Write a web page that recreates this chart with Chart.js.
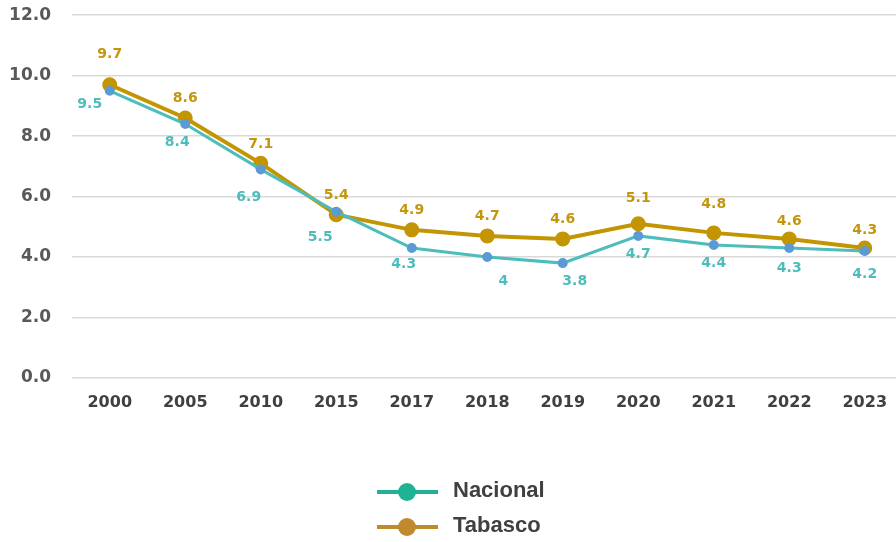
<!DOCTYPE html>
<html>
<head>
<meta charset="utf-8">
<script src="https://cdn.jsdelivr.net/npm/chart.js@4/dist/chart.umd.min.js"></script>
<style>
  html, body { margin: 0; padding: 0; background: #fff; overflow: hidden; }
  #wrap { position: relative; width: 912px; height: 558px; margin-top: -16px; }
</style>
</head>
<body>
<div id="wrap"><canvas id="chart"></canvas></div>
<script>
// data
const years    = ['2000', '2005', '2010', '2015', '2017', '2018', '2019', '2020', '2021', '2022', '2023'];
const nacional = [9.5, 8.4, 6.9, 5.5, 4.3, 4.0, 3.8, 4.7, 4.4, 4.3, 4.2];
const tabasco  = [9.7, 8.6, 7.1, 5.4, 4.9, 4.7, 4.6, 5.1, 4.8, 4.6, 4.3];
const nacionalText = ['9.5', '8.4', '6.9', '5.5', '4.3', '4', '3.8', '4.7', '4.4', '4.3', '4.2'];
const tabascoText  = ['9.7', '8.6', '7.1', '5.4', '4.9', '4.7', '4.6', '5.1', '4.8', '4.6', '4.3'];

// label placement (px, relative to point)
const nacShiftX = [-20, -8, -12, -16, -8, 16, 12, 0, 0, 0, 0];
const nacShiftY = [14, 18, 28, 26, 16, 24, 18, 18, 18, 20, 23];
const tabShiftY = [-30, -20, -19, -19, -19, -20, -20, -25, -29, -18, -18];

const FONT = '"DejaVu Sans", Verdana, sans-serif';
const NAC_LINE = '#4dbdbb';
const NAC_PT = '#5b9bd5';
const TAB = '#c49503';

const valueLabels = {
  id: 'valueLabels',
  afterDatasetsDraw(chart) {
    const ctx = chart.ctx;
    ctx.save();
    ctx.font = 'bold 14px ' + FONT;
    ctx.textAlign = 'center';
    ctx.textBaseline = 'middle';
    chart.getDatasetMeta(0).data.forEach((p, i) => {
      ctx.fillStyle = '#4dbdbb';
      ctx.fillText(nacionalText[i], p.x + nacShiftX[i], p.y + nacShiftY[i]);
    });
    chart.getDatasetMeta(1).data.forEach((p, i) => {
      ctx.fillStyle = '#c4960c';
      ctx.fillText(tabascoText[i], p.x, p.y + tabShiftY[i]);
    });
    ctx.restore();
  }
};

// legend drawn as stacked rows under the plot (canvas is shifted up 16px)
const bottomLegend = {
  id: 'bottomLegend',
  afterDraw(chart) {
    const ctx = chart.ctx;
    const items = [
      { text: chart.data.datasets[0].label, color: '#1fb294', y: 508 },
      { text: chart.data.datasets[1].label, color: '#bf8a2c', y: 543 }
    ];
    ctx.save();
    items.forEach(it => {
      ctx.strokeStyle = it.color;
      ctx.lineWidth = 4;
      ctx.beginPath();
      ctx.moveTo(377, it.y);
      ctx.lineTo(438, it.y);
      ctx.stroke();
      ctx.fillStyle = it.color;
      ctx.beginPath();
      ctx.arc(407, it.y, 9, 0, Math.PI * 2);
      ctx.fill();
      ctx.fillStyle = '#404040';
      ctx.font = 'bold 22px "Liberation Sans", Arial, sans-serif';
      ctx.textAlign = 'left';
      ctx.textBaseline = 'middle';
      ctx.fillText(it.text, 453, it.y - 1);
    });
    ctx.restore();
  }
};

new Chart(document.getElementById('chart').getContext('2d'), {
  type: 'line',
  data: {
    labels: years,
    datasets: [{
      label: 'Nacional',
      data: nacional,
      borderColor: NAC_LINE,
      backgroundColor: NAC_PT,
      pointBackgroundColor: NAC_PT,
      pointBorderColor: NAC_PT,
      pointRadius: 3.5,
      borderWidth: 3,
      tension: 0
    }, {
      label: 'Tabasco',
      data: tabasco,
      borderColor: TAB,
      backgroundColor: TAB,
      pointBackgroundColor: TAB,
      pointBorderColor: TAB,
      pointRadius: 5.5,
      borderWidth: 4,
      tension: 0
    }]
  },
  options: {
    responsive: true,
    maintainAspectRatio: false,
    animation: false,
    layout: { padding: { top: 0, right: 0, left: 0, bottom: 122 } },
    plugins: { legend: { display: false }, tooltip: { enabled: false } },
    scales: {
      x: {
        offset: true,
        grid: { display: false },
        border: { display: false },
        ticks: { color: '#404040', font: { family: FONT, size: 16, weight: 'bold' }, padding: 7, maxRotation: 0 },
        afterFit: s => { s.height = 42; }
      },
      y: {
        min: 0,
        max: 12,
        ticks: {
          stepSize: 2,
          color: '#595959',
          font: { family: FONT, size: 17, weight: 'bold' },
          padding: 21,
          callback: v => v.toFixed(1)
        },
        grid: { color: '#d9d9d9', lineWidth: 1.5, drawTicks: false },
        border: { display: false },
        afterFit: s => { s.width = 72; }
      }
    }
  },
  plugins: [valueLabels, bottomLegend]
});
</script>
</body>
</html>
